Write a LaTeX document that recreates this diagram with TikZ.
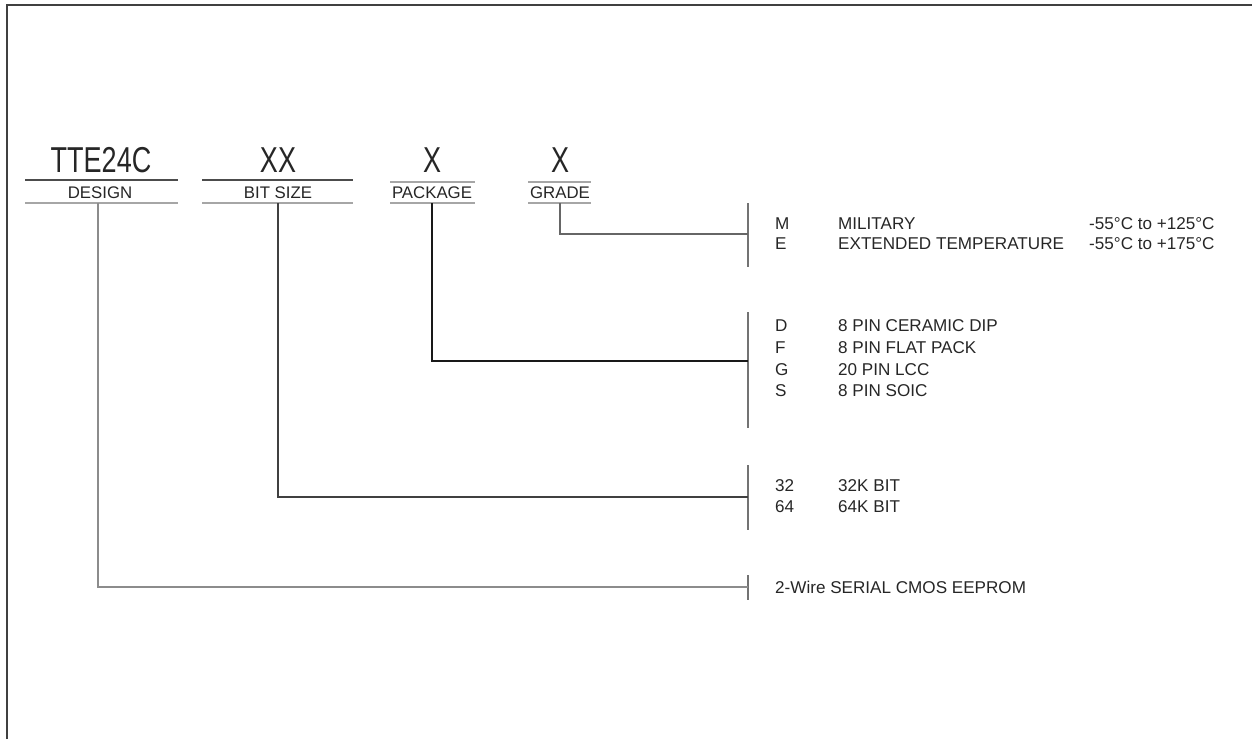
\documentclass[tikz,border=0pt]{standalone}
\usepackage{fontspec}
\setmainfont{Liberation Sans}
\newcommand{\nar}[1]{\scalebox{0.75}[1]{#1}}
\tikzset{
  bigtxt/.style={font=\fontsize{36}{36}\selectfont, anchor=base, inner sep=0pt, text=black!85},
  lbl/.style={font=\fontsize{16.8}{18}\selectfont, anchor=base, inner sep=0pt, text=black!85},
  item/.style={font=\fontsize{17.1}{18}\selectfont, inner sep=0pt, text=black!85, anchor=base west},
  topline/.style={draw=black!70, line width=1.6pt},
  botline/.style={draw=black!35, line width=1.3pt},
  conn/.style={draw=black!60, line width=1.1pt},
  bar/.style={draw=black!55, line width=1.1pt},
  frame/.style={draw=black!75, line width=2pt}
}
\begin{document}
\begin{tikzpicture}[x=1pt,y=-1pt]
\useasboundingbox (0,0) rectangle (1252,739);
\draw[frame] (7,739) -- (7,5) -- (1252,5);

% header
\node[bigtxt] (design) at (101,172) {\nar{TTE24C}};
\node[lbl] (designlbl) at (100,198) {DESIGN};
\draw[topline] (25,180) -- (178,180);
\draw[botline] (25,203) -- (178,203);

\node[bigtxt] (bits) at (278,172) {\nar{XX}};
\node[lbl] (bitslbl) at (278,198) {BIT SIZE};
\draw[topline] (202,180) -- (353,180);
\draw[botline] (202,203) -- (353,203);

\node[bigtxt] (pkg) at (432,172) {\nar{X}};
\node[lbl] (pkglbl) at (432,198) {PACKAGE};
\draw[botline] (390,182) -- (475,182);
\draw[botline] (390,203) -- (475,203);

\node[bigtxt] (grd) at (560,172) {\nar{X}};
\node[lbl] (grdlbl) at (560,198) {GRADE};
\draw[botline] (528,182) -- (591,182);
\draw[botline] (528,203) -- (591,203);

% connector start points
\coordinate (dsgS) at (98,203);
\coordinate (bitS) at (278,203);
\coordinate (pkgS) at (432,203);
\coordinate (grdS) at (560,203);

% bars
\coordinate (gbT) at (748,203); \coordinate (gbB) at (748,267);
\coordinate (gbM) at (748,234);
\coordinate (pbT) at (748,312); \coordinate (pbB) at (748,428);
\coordinate (pbM) at (748,361);
\coordinate (bbT) at (748,465); \coordinate (bbB) at (748,530);
\coordinate (bbM) at (748,497);
\coordinate (dbT) at (748,575); \coordinate (dbB) at (748,600);
\coordinate (dbM) at (748,587);

\draw[bar] (gbT) -- (gbB);
\draw[bar] (pbT) -- (pbB);
\draw[bar] (bbT) -- (bbB);
\draw[bar] (dbT) -- (dbB);

\draw[conn] (grdS) |- (gbM);
\draw[conn, draw=black!90] (pkgS) |- (pbM);
\draw[conn, draw=black!75] (bitS) |- (bbM);
\draw[conn, draw=black!45] (dsgS) |- (dbM);

% grade items
\node[item] (m) at (775,229) {M};
\node[item] (mil) at (838,229) {MILITARY};
\node[item] (mt) at (1089,229) {-55°C to +125°C};
\node[item] (e) at (775,249) {E};
\node[item] (ext) at (838,249) {EXTENDED TEMPERATURE};
\node[item] (et) at (1089,249) {-55°C to +175°C};

% package items
\node[item] (d) at (775,331) {D};
\node[item] (dd) at (838,331) {8 PIN CERAMIC DIP};
\node[item] (f) at (775,353) {F};
\node[item] (fd) at (838,353) {8 PIN FLAT PACK};
\node[item] (g) at (775,375) {G};
\node[item] (gd) at (838,375) {20 PIN LCC};
\node[item] (s) at (775,396) {S};
\node[item] (sd) at (838,396) {8 PIN SOIC};

% bit size items
\node[item] (b32) at (775,491) {32};
\node[item] (b32d) at (838,491) {32K BIT};
\node[item] (b64) at (775,512) {64};
\node[item] (b64d) at (838,512) {64K BIT};

% design
\node[item] (wire) at (775,593) {2-Wire SERIAL CMOS EEPROM};
\end{tikzpicture}
\end{document}
